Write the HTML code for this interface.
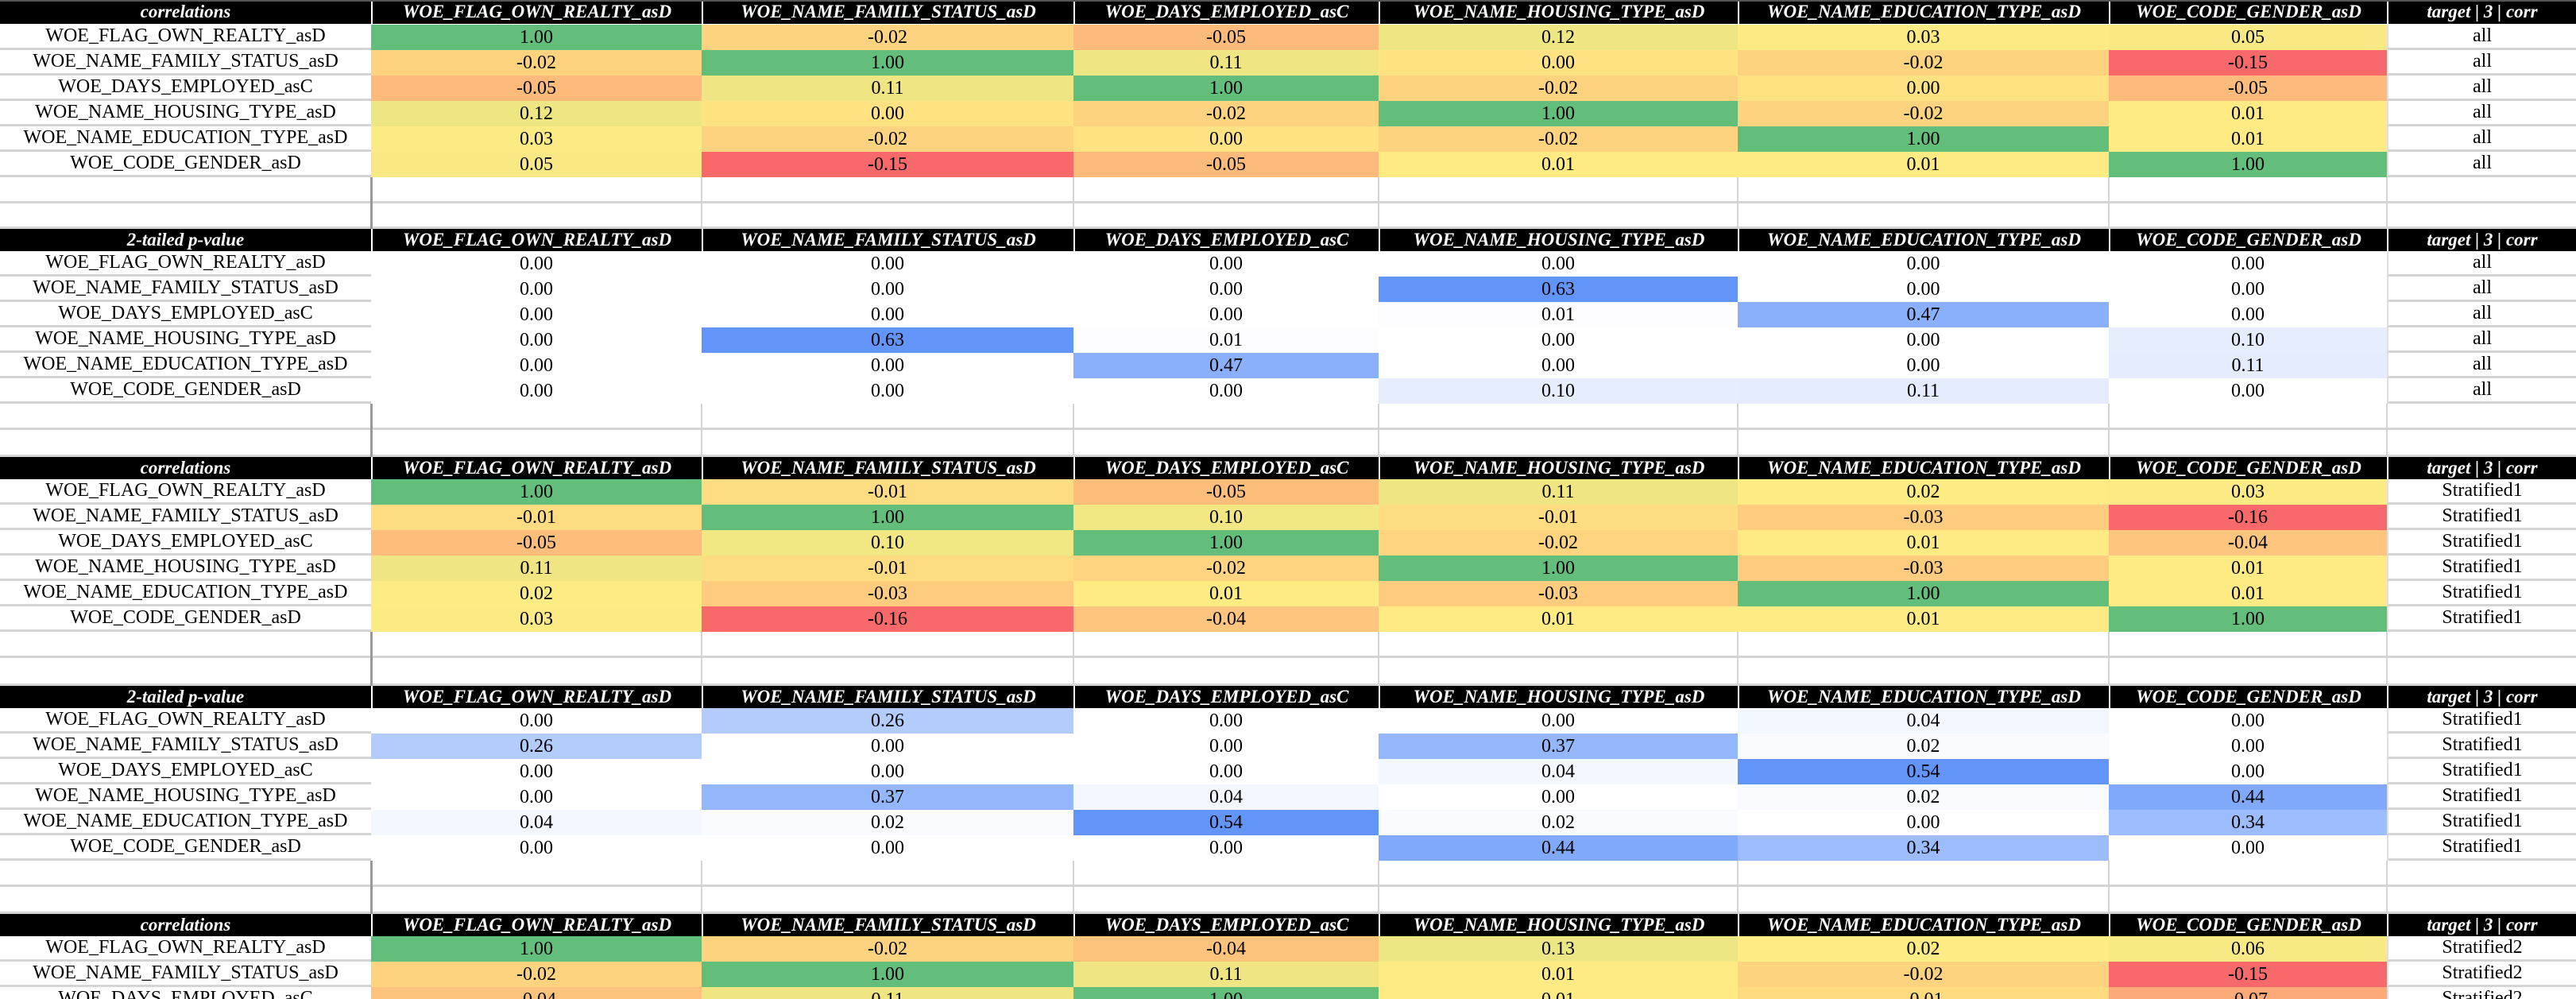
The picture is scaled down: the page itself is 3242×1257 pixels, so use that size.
<!DOCTYPE html>
<html style="overflow:hidden;height:1257px;width:3242px"><head><meta charset="utf-8"><style>
html,body{margin:0;width:3242px;height:1257px;overflow:hidden;background:#fff;position:relative;font-family:"Liberation Serif",serif}
.c{position:absolute;box-sizing:border-box;display:flex;align-items:center;justify-content:center;font-size:24px;color:#000;white-space:nowrap;overflow:hidden;font-family:"Liberation Serif",serif}
.h{background:#000;color:#fff;font-weight:bold;font-style:italic;font-size:23px}
.g{position:absolute;background:#d4d4d4}
</style></head><body>
<script>
const X=[0,467,883,1351,1735,2187,2654,3004,3242];
const heads=["WOE_FLAG_OWN_REALTY_asD","WOE_NAME_FAMILY_STATUS_asD","WOE_DAYS_EMPLOYED_asC","WOE_NAME_HOUSING_TYPE_asD","WOE_NAME_EDUCATION_TYPE_asD","WOE_CODE_GENDER_asD"];
const S=[
 {t:"correlations",k:"c",tag:"all",d:[[1,-.02,-.05,.12,.03,.05],[-.02,1,.11,0,-.02,-.15],[-.05,.11,1,-.02,0,-.05],[.12,0,-.02,1,-.02,.01],[.03,-.02,0,-.02,1,.01],[.05,-.15,-.05,.01,.01,1]]},
 {t:"2-tailed p-value",k:"p",tag:"all",d:[[0,0,0,0,0,0],[0,0,0,.63,0,0],[0,0,0,.01,.47,0],[0,.63,.01,0,0,.10],[0,0,.47,0,0,.11],[0,0,0,.10,.11,0]]},
 {t:"correlations",k:"c",tag:"Stratified1",d:[[1,-.01,-.05,.11,.02,.03],[-.01,1,.10,-.01,-.03,-.16],[-.05,.10,1,-.02,.01,-.04],[.11,-.01,-.02,1,-.03,.01],[.02,-.03,.01,-.03,1,.01],[.03,-.16,-.04,.01,.01,1]]},
 {t:"2-tailed p-value",k:"p",tag:"Stratified1",d:[[0,.26,0,0,.04,0],[.26,0,0,.37,.02,0],[0,0,0,.04,.54,0],[0,.37,.04,0,.02,.44],[.04,.02,.54,.02,0,.34],[0,0,0,.44,.34,0]]},
 {t:"correlations",k:"c",tag:"Stratified2",d:[[1,-.02,-.04,.13,.02,.06],[-.02,1,.11,.01,-.02,-.15],[-.04,.11,1,.01,-.01,-.07],[.13,.01,.01,1,-.02,.01],[.02,-.02,-.01,-.02,1,.01],[.06,-.15,-.07,.01,.01,1]]}
];
const rl=heads;
function mix(a,b,t){return `rgb(${a.map((v,i)=>Math.round(v+(b[i]-v)*t)).join(",")})`}
function cc(v,mn){const R=[248,105,107],Y=[255,235,132],G=[99,190,123],mid=0.01;
 if(v<=mid)return mix(R,Y,Math.max(0,(v-mn)/(mid-mn)));return mix(Y,G,(v-mid)/(1-mid));}
function pc(v,mx){return mix([255,255,255],[99,149,249],v/mx)}
let h="";
const tops=[0,288,575,863,1150];
S.forEach((s,k)=>{
 const y0=tops[k];const hh=k==0?30:28;const ry=y0+hh+(k==0?1:0);
 let mn=Math.min(...s.d.flat()),mx=Math.max(...s.d.flat());
 for(let c=0;c<8;c++){const txt=c==0?s.t:c==7?"target | 3 | corr":heads[c-1];
  h+=`<div class="c h" style="left:${X[c]+(c?2:0)}px;top:${y0}px;width:${X[c+1]-X[c]-(c?2:0)}px;height:${hh}px">${txt}</div>`;}
 for(let r=0;r<6;r++){const y=ry+32*r; if(y>=1257)break;
  h+=`<div class="c" style="left:0;top:${y}px;width:467px;height:32px;border-bottom:3px solid #d4d4d4">${rl[r]}</div>`;
  for(let c=0;c<6;c++){const v=s.d[r][c];const bg=s.k=="c"?cc(v,mn):pc(v,mx);
   h+=`<div class="c" style="left:${X[c+1]}px;top:${y}px;width:${X[c+2]-X[c+1]}px;height:32px;background:${bg}">${v.toFixed(2)}</div>`;}
  h+=`<div class="c" style="left:3004px;top:${y}px;width:238px;height:32px;border-bottom:3px solid #d4d4d4;border-left:2px solid #e0e0e0">${s.tag}</div>`;
 }
 const by=ry+192;
 if(k<4){const nb=tops[k+1];
  h+=`<div class="g" style="left:0;top:${by+30}px;width:3242px;height:3px"></div>`;
  h+=`<div class="g" style="left:0;top:${nb-3}px;width:3242px;height:3px"></div>`;
  for(let c=1;c<8;c++)h+=`<div class="g" style="left:${X[c]-1}px;top:${by}px;width:${c==1?3:2}px;height:${nb-by}px;${c==1?'background:#999':''}"></div>`;
 }
});
h+=`<div style="position:absolute;left:0;top:0;width:3242px;height:2px;background:#555"></div>`;
document.write(h);
</script>
</body></html>
